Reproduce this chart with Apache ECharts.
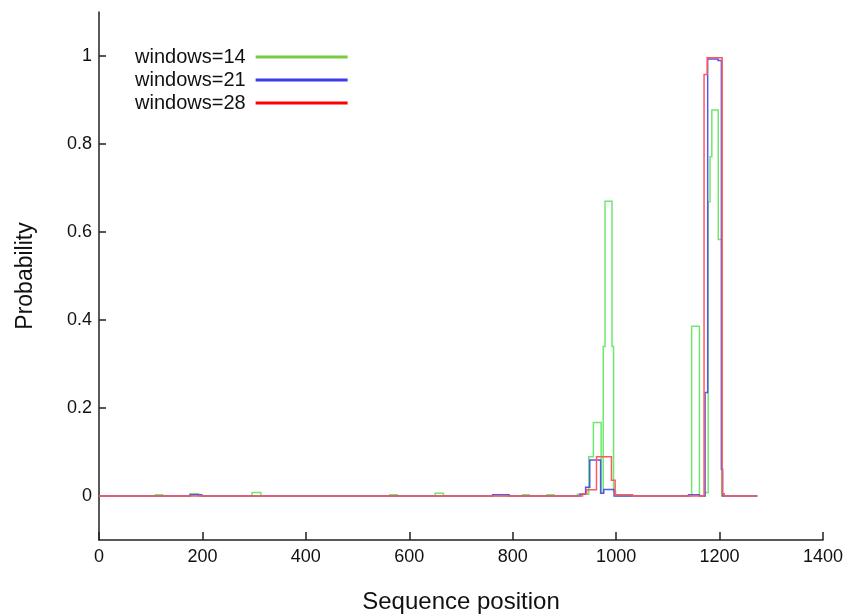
<!DOCTYPE html>
<html>
<head>
<meta charset="utf-8">
<script src="https://cdn.jsdelivr.net/npm/echarts@6/dist/echarts.min.js"></script>
<style>
  html, body { margin: 0; padding: 0; background: #fff; }
  #chart { width: 848px; height: 614px; }
</style>
</head>
<body>
<div id="chart"></div>
<script>
// step breakpoints: value holds from pos[i] until pos[i+1]
const w14Pos = [0, 109, 123, 176, 192, 296, 313, 562, 577, 650, 666, 819, 832, 866, 880, 925, 947, 956, 971, 975, 978.5, 992, 995, 999, 1146, 1161, 1172, 1178, 1181.5, 1185, 1197.5, 1204, 1273];
const w14Val = [0, 0.003, 0, 0.005, 0, 0.008, 0, 0.003, 0, 0.006, 0, 0.003, 0, 0.003, 0, 0.004, 0.089, 0.167, 0.008, 0.34, 0.67, 0.34, 0.01, 0, 0.386, 0, 0.008, 0.669, 0.771, 0.877, 0.583, 0, 0];

const w21Pos = [0, 176, 199, 761, 793, 930, 941, 949, 970, 976, 996, 1140, 1161, 1172, 1177, 1197, 1203.5, 1206, 1273];
const w21Val = [0, 0.003, 0, 0.003, 0, 0.004, 0.02, 0.082, 0.006, 0.015, 0, 0.003, 0, 0.235, 0.993, 0.99, 0.061, 0, 0];

const w28Pos = [0, 935, 943, 962, 991, 998, 1032, 1170, 1176, 1205, 1209, 1273];
const w28Val = [0, 0.005, 0.014, 0.089, 0.036, 0.003, 0, 0.958, 0.996, 0.005, 0, 0];

const seriesNames = ['windows=14', 'windows=21', 'windows=28'];
const lineColors = ['#6ee86e', '#5555f0', '#ff5a5a'];
const legendColors = ['#77cc44', '#3a3aee', '#ff0000'];
const yTicks = [0, 0.2, 0.4, 0.6, 0.8, 1];

// turn breakpoints into step corners (the line series drops very short segments,
// so the steps are drawn as a lines-series polyline instead)
const toSteps = (xs, ys) => {
    const pts = [];
    for (let i = 0; i < xs.length; i++) {
        pts.push([xs[i], ys[i]]);
        if (i + 1 < xs.length) pts.push([xs[i + 1], ys[i]]);
    }
    return pts;
};
const allData = [toSteps(w14Pos, w14Val), toSteps(w21Pos, w21Val), toSteps(w28Pos, w28Val)];

const chart = echarts.init(document.getElementById('chart'));
const font = 'Liberation Sans, Arial, sans-serif';

chart.setOption({
    animation: false,
    grid: { left: 99, right: 25, top: 12, bottom: 74, containLabel: false, outerBoundsMode: 'none' },
    legend: {
        orient: 'vertical',
        left: 130,
        top: 42,
        align: 'right',
        icon: 'rect',
        itemWidth: 92,
        itemHeight: 3,
        itemGap: 3,
        textStyle: { fontFamily: font, fontSize: 20, color: '#111', lineHeight: 20, padding: [0, 5, 0, 0] },
        data: seriesNames.map((n, i) => ({
            name: n,
            itemStyle: { color: legendColors[i], borderWidth: 0 },
            lineStyle: { color: legendColors[i], width: 0 }
        }))
    },
    xAxis: {
        type: 'value',
        min: 0,
        max: 1400,
        interval: 200,
        name: 'Sequence position',
        nameLocation: 'middle',
        nameGap: 50,
        nameTextStyle: { fontFamily: font, fontSize: 24, color: '#111' },
        axisLine: { onZero: false, lineStyle: { color: '#222', width: 1.5 } },
        axisTick: { inside: true, length: 8, lineStyle: { color: '#222', width: 1.5 } },
        axisLabel: { fontFamily: font, fontSize: 18, color: '#111', margin: 8, formatter: v => String(v) },
        splitLine: { show: false }
    },
    yAxis: {
        type: 'value',
        min: -0.1,
        max: 1.1,
        interval: 0.1,
        name: 'Probability',
        nameLocation: 'middle',
        nameGap: 62,
        nameTextStyle: { fontFamily: font, fontSize: 23, color: '#111' },
        axisLine: { show: true, lineStyle: { color: '#222', width: 1.5 } },
        axisTick: { inside: true, length: 7, customValues: yTicks, lineStyle: { color: '#222', width: 1.5 } },
        axisLabel: { fontFamily: font, fontSize: 18, color: '#111', margin: 7, customValues: yTicks },
        splitLine: { show: false }
    },
    series: allData.map((d, i) => ({
        name: seriesNames[i],
        type: 'lines',
        coordinateSystem: 'cartesian2d',
        polyline: true,
        silent: true,
        data: [{ coords: d }],
        itemStyle: { color: lineColors[i] },
        lineStyle: { width: 1.5, color: lineColors[i], opacity: 1 }
    }))
});
</script>
</body>
</html>
